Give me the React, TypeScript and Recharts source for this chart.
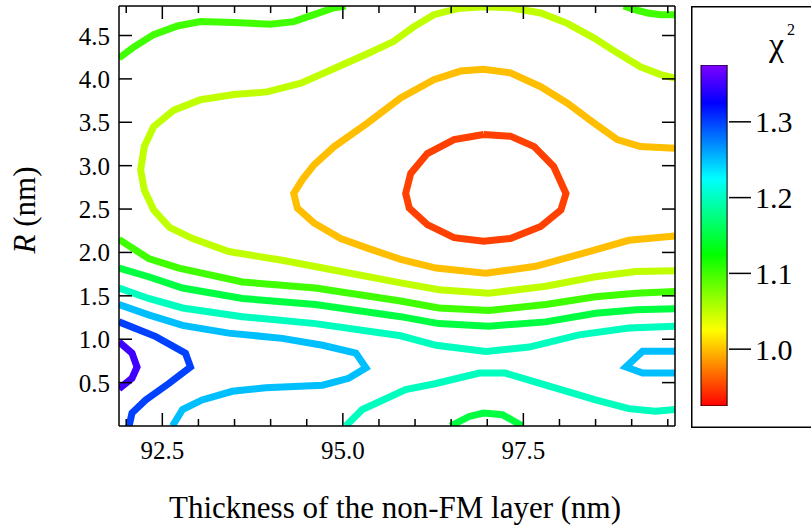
import { LineChart, Line, XAxis, YAxis, BarChart, Bar, Label } from 'recharts'

const FONT = '"Liberation Serif", "Times New Roman", serif'

// axes: thickness of the non-FM layer (nm) vs R (nm)
const X_DOMAIN: [number, number] = [91.9, 99.6]
const Y_DOMAIN: [number, number] = [0, 4.84]
const X_TICKS = [92, 92.5, 93, 93.5, 94, 94.5, 95, 95.5, 96, 96.5, 97, 97.5, 98, 98.5, 99, 99.5]
const X_LABELS = [92.5, 95, 97.5]
const Y_TICKS = [0.5, 1, 1.5, 2, 2.5, 3, 3.5, 4, 4.5]

// colour scale of chi^2
const CHI2_RANGE: [number, number] = [0.925, 1.375]
const CHI2_TICKS = [1.0, 1.1, 1.2, 1.3]
const CHI2_STOPS = [0.925, 1.025, 1.125, 1.225, 1.325, 1.375]
const CHI2_BAR = [{ name: 'chi2', range: CHI2_RANGE }]

// contour lines, [thickness, R]
const C095 = [[96.95, 3.36], [97.32, 3.34], [97.65, 3.22], [97.92, 2.99], [98.09, 2.68], [98.02, 2.49], [97.74, 2.3], [97.32, 2.16], [96.95, 2.13], [96.54, 2.17], [96.17, 2.32], [95.92, 2.51], [95.87, 2.68], [95.94, 2.91], [96.17, 3.14], [96.54, 3.3], [96.95, 3.36]]
const C100 = [[99.6, 3.2], [99.12, 3.22], [98.8, 3.3], [98.48, 3.49], [98.11, 3.72], [97.74, 3.91], [97.32, 4.07], [96.95, 4.11], [96.63, 4.09], [96.26, 3.99], [95.8, 3.78], [95.34, 3.49], [94.88, 3.22], [94.6, 3.01], [94.44, 2.84], [94.32, 2.68], [94.37, 2.51], [94.6, 2.34], [94.97, 2.16], [95.34, 2.05], [95.8, 1.92], [96.29, 1.82], [96.98, 1.76], [97.67, 1.84], [98.41, 2.01], [98.96, 2.14], [99.6, 2.19]]
const C105 = [[99.6, 4.01], [99.4, 4.05], [99.12, 4.14], [98.8, 4.3], [98.48, 4.47], [98.11, 4.64], [97.74, 4.76], [97.32, 4.82], [96.95, 4.83], [96.59, 4.81], [96.26, 4.74], [95.98, 4.6], [95.7, 4.43], [95.34, 4.29], [94.88, 4.12], [94.42, 3.95], [93.95, 3.85], [93.49, 3.82], [93.03, 3.76], [92.66, 3.64], [92.38, 3.45], [92.25, 3.22], [92.2, 2.95], [92.25, 2.72], [92.38, 2.49], [92.6, 2.29], [92.92, 2.16], [93.42, 2.01], [94.16, 1.91], [94.85, 1.8], [95.8, 1.65], [96.33, 1.57], [97.02, 1.53], [97.81, 1.61], [98.5, 1.72], [99.06, 1.78], [99.6, 1.79]]
const C110_TOP_LEFT = [[91.9, 4.24], [92.11, 4.37], [92.38, 4.51], [92.71, 4.61], [93.03, 4.66], [93.49, 4.65], [94.0, 4.63], [94.32, 4.66], [94.6, 4.74], [94.88, 4.82], [95.04, 4.84]]
const C110_TOP_RIGHT = [[98.89, 4.84], [99.03, 4.8], [99.22, 4.76], [99.4, 4.74], [99.6, 4.74]]
const C110 = [[91.9, 2.15], [92.31, 1.93], [92.73, 1.82], [93.61, 1.66], [94.62, 1.59], [95.8, 1.44], [96.33, 1.36], [97.02, 1.33], [97.81, 1.4], [98.5, 1.49], [99.06, 1.53], [99.6, 1.55]]
const C115 = [[91.9, 1.82], [92.31, 1.72], [92.78, 1.59], [93.61, 1.47], [94.62, 1.4], [95.8, 1.26], [96.33, 1.18], [97.02, 1.15], [97.81, 1.2], [98.5, 1.3], [99.06, 1.34], [99.6, 1.35]]
const C115_BOTTOM = [[96.49, 0], [96.75, 0.11], [96.95, 0.15], [97.21, 0.13], [97.49, 0]]
const C120 = [[91.9, 1.59], [92.31, 1.47], [92.78, 1.36], [93.61, 1.26], [94.62, 1.18], [95.8, 1.04], [96.29, 0.93], [96.98, 0.86], [97.58, 0.91], [98.27, 1.05], [98.96, 1.13], [99.6, 1.15]]
const C120_BOTTOM = [[95.04, 0], [95.27, 0.19], [95.87, 0.42], [96.29, 0.49], [96.89, 0.61], [97.25, 0.61], [97.81, 0.47], [98.5, 0.3], [98.96, 0.2], [99.33, 0.17], [99.6, 0.19]]
const C125 = [[91.9, 1.4], [92.31, 1.28], [92.78, 1.16], [93.42, 1.07], [94.16, 1.01], [94.72, 0.93], [95.18, 0.84], [95.32, 0.67], [95.08, 0.55], [94.72, 0.47], [93.93, 0.44], [93.47, 0.4], [93.05, 0.3], [92.78, 0.19], [92.64, 0]]
const C125_RIGHT = [[99.6, 0.86], [99.15, 0.86], [98.92, 0.68], [99.15, 0.61], [99.6, 0.61]]
const C130 = [[91.9, 1.2], [92.41, 1.03], [92.82, 0.84], [92.89, 0.68], [92.59, 0.49], [92.27, 0.3], [92.08, 0.15], [92.04, 0]]
const C135 = [[91.9, 0.97], [92.08, 0.84], [92.15, 0.68], [92.08, 0.55], [91.9, 0.43]]

const CONTOURS: { level: number; points: number[][] }[] = [
  { level: 0.95, points: C095 },
  { level: 1.0, points: C100 },
  { level: 1.05, points: C105 },
  { level: 1.1, points: C110_TOP_LEFT },
  { level: 1.1, points: C110_TOP_RIGHT },
  { level: 1.1, points: C110 },
  { level: 1.15, points: C115 },
  { level: 1.15, points: C115_BOTTOM },
  { level: 1.2, points: C120 },
  { level: 1.2, points: C120_BOTTOM },
  { level: 1.25, points: C125 },
  { level: 1.25, points: C125_RIGHT },
  { level: 1.3, points: C130 },
  { level: 1.35, points: C135 },
]

// rainbow: red at the low end, violet at the high end
const chi2Color = (v: number) => {
  const t = (v - CHI2_RANGE[0]) / (CHI2_RANGE[1] - CHI2_RANGE[0])
  return `hsl(${t * 270}, 100%, 50%)`
}

const PLOT = { left: 119, top: 6, right: 675, bottom: 426 }
const AXIS_LINE = { stroke: '#000', strokeWidth: 1.5 }

const isMajor = (v: number) => X_LABELS.some((m) => Math.abs(m - v) < 1e-6)

function BottomTick({ x, payload }: any) {
  const major = isMajor(payload.value)
  return (
    <g>
      <line x1={x} x2={x} y1={PLOT.bottom} y2={PLOT.bottom - (major ? 13 : 7)} stroke="#000" strokeWidth={1.5} />
      {major && (
        <text x={x} y={PLOT.bottom + 32.5} textAnchor="middle" fontSize={25} fontFamily={FONT} fill="#000">
          {payload.value.toFixed(1)}
        </text>
      )}
    </g>
  )
}

function TopTick({ x, payload }: any) {
  const major = isMajor(payload.value)
  return <line x1={x} x2={x} y1={PLOT.top} y2={PLOT.top + (major ? 13 : 7)} stroke="#000" strokeWidth={1.5} />
}

function LeftTick({ y, payload }: any) {
  return (
    <g>
      <line x1={PLOT.left} x2={PLOT.left + 13} y1={y} y2={y} stroke="#000" strokeWidth={1.5} />
      <text x={PLOT.left - 9} y={y + 9} textAnchor="end" fontSize={25} fontFamily={FONT} fill="#000">
        {payload.value.toFixed(1)}
      </text>
    </g>
  )
}

function RightTick({ y }: any) {
  return <line x1={PLOT.right} x2={PLOT.right - 13} y1={y} y2={y} stroke="#000" strokeWidth={1.5} />
}

const XTitle = () => (
  <text x={395} y={518} textAnchor="middle" fontSize={31} fontFamily={FONT} fill="#000">
    Thickness of the non-FM layer (nm)
  </text>
)

const YTitle = () => (
  <text x={0} y={0} transform="translate(35, 210) rotate(-90)" textAnchor="middle" fontSize={31} fontFamily={FONT} fill="#000">
    <tspan fontStyle="italic">R</tspan> (nm)
  </text>
)

const ChiTitle = () => (
  <g>
    <rect x={0.75} y={6.75} width={200} height={420.5} fill="none" stroke="#000" strokeWidth={1.5} />
    <text x={78} y={56} fontSize={34} fontFamily={FONT} fill="#000">χ</text>
    <text x={96} y={35} fontSize={16} fontFamily={FONT} fill="#000">2</text>
  </g>
)

export default function App() {
  return (
    <div style={{ position: 'absolute', left: 0, top: 0, width: 811, height: 530, overflow: 'hidden', background: '#fff' }}>
      <div style={{ position: 'absolute', left: 0, top: 0 }}>
        <LineChart width={811} height={530} margin={{ top: 5, left: 118, right: 135, bottom: 103 }}>
          <XAxis
            type="number"
            dataKey="x"
            domain={X_DOMAIN}
            allowDataOverflow
            ticks={X_TICKS}
            interval={0}
            height={1}
            tickSize={0}
            tickLine={false}
            axisLine={AXIS_LINE}
            tick={(p: any) => <BottomTick {...p} />}
          >
            <Label content={XTitle} />
          </XAxis>
          <XAxis
            xAxisId="top"
            orientation="top"
            type="number"
            dataKey="x"
            domain={X_DOMAIN}
            allowDataOverflow
            ticks={X_TICKS}
            interval={0}
            height={1}
            tickSize={0}
            tickLine={false}
            axisLine={AXIS_LINE}
            tick={(p: any) => <TopTick {...p} />}
          />
          <YAxis
            type="number"
            domain={Y_DOMAIN}
            allowDataOverflow
            ticks={Y_TICKS}
            interval={0}
            width={1}
            tickSize={0}
            tickLine={false}
            axisLine={AXIS_LINE}
            tick={(p: any) => <LeftTick {...p} />}
          >
            <Label content={YTitle} />
          </YAxis>
          <YAxis
            yAxisId="right"
            orientation="right"
            type="number"
            domain={Y_DOMAIN}
            allowDataOverflow
            ticks={Y_TICKS}
            interval={0}
            width={1}
            tickSize={0}
            tickLine={false}
            axisLine={AXIS_LINE}
            tick={(p: any) => <RightTick {...p} />}
          />
          {CONTOURS.map((c, i) => (
            <Line
              key={`contour-${i}`}
              data={c.points.map(([x, y]) => ({ x, y }))}
              dataKey="y"
              type="linear"
              stroke={chi2Color(c.level)}
              strokeWidth={7}
              dot={false}
              activeDot={false}
              legendType="none"
              isAnimationActive={false}
            />
          ))}
        </LineChart>
      </div>

      <div style={{ position: 'absolute', left: 691, top: 0 }}>
        <BarChart width={120} height={430} data={CHI2_BAR} margin={{ top: 65, right: 0, bottom: 24, left: 9 }} barCategoryGap={0}>
          <defs>
            <linearGradient id="chi2Scale" x1="0" y1="1" x2="0" y2="0">
              {CHI2_STOPS.map((v) => (
                <stop key={v} offset={(v - CHI2_RANGE[0]) / (CHI2_RANGE[1] - CHI2_RANGE[0])} stopColor={chi2Color(v)} />
              ))}
            </linearGradient>
          </defs>
          <XAxis dataKey="name" hide />
          <YAxis
            orientation="right"
            type="number"
            width={82}
            domain={CHI2_RANGE}
            allowDataOverflow
            ticks={CHI2_TICKS}
            interval={0}
            axisLine={false}
            tickSize={22}
            tickMargin={4}
            tickLine={{ stroke: '#000', strokeWidth: 1.5 }}
            tick={{ fill: '#000', fontSize: 30, fontFamily: FONT }}
            tickFormatter={(v: number) => v.toFixed(1)}
          >
            <Label content={ChiTitle} />
          </YAxis>
          <Bar dataKey="range" fill="url(#chi2Scale)" stroke="#000" strokeWidth={1} barSize={29} isAnimationActive={false} />
        </BarChart>
      </div>
    </div>
  )
}
